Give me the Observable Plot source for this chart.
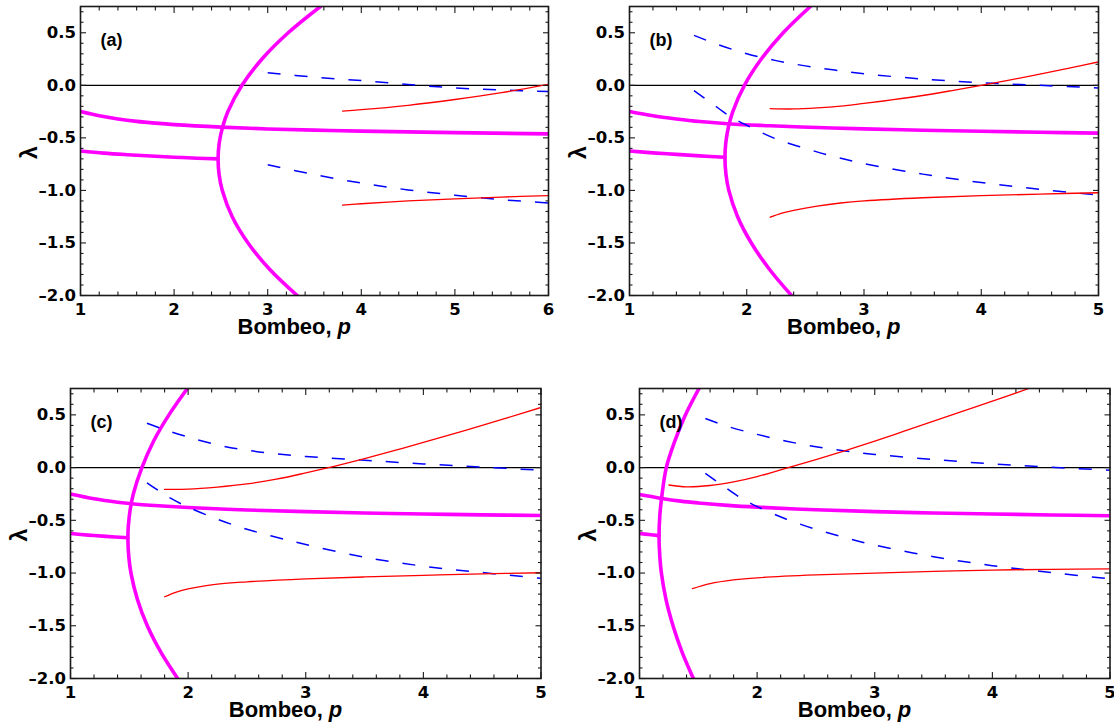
<!DOCTYPE html>
<html>
<head>
<meta charset="utf-8">
<script src="https://cdn.jsdelivr.net/npm/d3@7"></script>
<script src="https://cdn.jsdelivr.net/npm/@observablehq/plot@0.6"></script>
<style>
  html, body { margin: 0; padding: 0; background: #fff; overflow: hidden; }
  #fig { position: relative; width: 1114px; height: 727px; }
  #fig svg { position: absolute; }
</style>
</head>
<body>
<div id="fig"></div>
<script>
// Eigenvalue branches λ(p) versus pump strength p, four parameter sets (a)–(d).
// Each series is a list of [p, λ] pairs.

// ---- (a) ----
const a_arc = [[3.563, 0.75], [3.219, 0.5], [2.939, 0.25], [2.725, 0], [2.575, -0.25], [2.517, -0.4], [2.482, -0.55], [2.47, -0.7], [2.481, -0.85], [2.515, -1.0], [2.621, -1.25], [2.79, -1.5], [3.02, -1.75], [3.315, -2.0]];
const a_upper = [[1, -0.25], [1.2, -0.29], [1.4, -0.32], [1.6, -0.343], [1.8, -0.36], [2, -0.374], [2.5, -0.398], [3, -0.415], [3.5, -0.426], [4, -0.436], [5, -0.45], [6, -0.462]];
const a_lower = [[1, -0.625], [1.25, -0.645], [1.5, -0.66], [1.75, -0.673], [2, -0.684], [2.25, -0.694], [2.47, -0.7]];
const a_blueHi = [[3.0, 0.12], [3.5, 0.078], [4.0, 0.045], [4.5, 0.008], [5.0, -0.025], [5.5, -0.045], [6.0, -0.06]];
const a_blueLo = [[3.0, -0.755], [3.5, -0.85], [4.0, -0.93], [4.5, -0.995], [5.0, -1.045], [5.5, -1.088], [6.0, -1.12]];
const a_redHi = [[3.8, -0.245], [4.0, -0.232], [4.5, -0.19], [5.0, -0.135], [5.5, -0.07], [6.0, 0.01]];
const a_redLo = [[3.8, -1.14], [4.0, -1.127], [4.5, -1.1], [5.0, -1.08], [5.5, -1.063], [6.0, -1.05]];

// ---- (b) ----
const b_arc = [[2.543, 0.75], [2.311, 0.5], [2.124, 0.25], [1.98, 0], [1.881, -0.25], [1.843, -0.4], [1.821, -0.55], [1.814, -0.687], [1.823, -0.85], [1.847, -1.0], [1.922, -1.25], [2.039, -1.5], [2.193, -1.75], [2.382, -2.0]];
const b_upper = [[1, -0.25], [1.2, -0.29], [1.4, -0.32], [1.6, -0.345], [1.86, -0.368], [2.2, -0.385], [2.6, -0.402], [3, -0.414], [3.5, -0.427], [4, -0.437], [4.5, -0.447], [5, -0.455]];
const b_lower = [[1, -0.625], [1.2, -0.643], [1.4, -0.657], [1.6, -0.671], [1.814, -0.685]];
const b_blueHi = [[1.55, 0.475], [1.75, 0.39], [2.0, 0.3], [2.25, 0.235], [2.5, 0.185], [2.75, 0.145], [3.0, 0.11], [3.5, 0.06], [4.0, 0.025], [4.5, 0.0], [5.0, -0.025]];
const b_blueLo = [[1.55, -0.05], [1.7, -0.17], [1.85, -0.29], [2.0, -0.38], [2.25, -0.51], [2.5, -0.6], [2.75, -0.68], [3.0, -0.745], [3.5, -0.845], [4.0, -0.925], [4.5, -0.99], [5.0, -1.045]];
const b_redHi = [[2.2, -0.222], [2.4, -0.225], [2.6, -0.215], [2.8, -0.198], [3.0, -0.172], [3.25, -0.137], [3.5, -0.097], [3.75, -0.05], [4.0, 0.0], [4.25, 0.052], [4.5, 0.106], [4.75, 0.163], [5.0, 0.223]];
const b_redLo = [[2.2, -1.255], [2.3, -1.215], [2.4, -1.19], [2.6, -1.15], [2.8, -1.12], [3.0, -1.1], [3.5, -1.07], [4.0, -1.05], [4.5, -1.035], [5.0, -1.022]];

// ---- (c) ----
const c_arc = [[1.994, 0.75], [1.837, 0.5], [1.706, 0.25], [1.607, 0], [1.534, -0.25], [1.507, -0.4], [1.492, -0.55], [1.488, -0.67], [1.496, -0.85], [1.514, -1.0], [1.569, -1.25], [1.653, -1.5], [1.768, -1.75], [1.911, -2.0]];
const c_upper = [[1, -0.25], [1.2, -0.295], [1.4, -0.328], [1.52, -0.343], [1.75, -0.362], [2, -0.378], [2.5, -0.402], [3, -0.418], [3.5, -0.43], [4, -0.44], [4.5, -0.448], [5, -0.455]];
const c_lower = [[1, -0.625], [1.15, -0.64], [1.3, -0.652], [1.488, -0.665]];
const c_blueHi = [[1.65, 0.42], [1.8, 0.36], [2.0, 0.29], [2.25, 0.215], [2.5, 0.165], [2.75, 0.13], [3.0, 0.105], [3.5, 0.07], [4.0, 0.035], [4.5, 0.005], [5.0, -0.025]];
const c_blueLo = [[1.65, -0.145], [1.75, -0.22], [1.85, -0.29], [2.0, -0.375], [2.25, -0.49], [2.5, -0.585], [2.75, -0.66], [3.0, -0.73], [3.5, -0.85], [4.0, -0.935], [4.5, -0.995], [5.0, -1.05]];
const c_redHi = [[1.8, -0.207], [2.0, -0.205], [2.25, -0.185], [2.5, -0.155], [2.75, -0.11], [3.0, -0.05], [3.25, 0.015], [3.5, 0.085], [3.75, 0.16], [4.0, 0.24], [4.5, 0.4], [5.0, 0.57]];
const c_redLo = [[1.8, -1.225], [1.9, -1.18], [2.0, -1.15], [2.25, -1.105], [2.5, -1.083], [3.0, -1.055], [3.5, -1.037], [4.0, -1.022], [4.5, -1.008], [5.0, -0.997]];

// ---- (d) ----
const d_arc = [[1.506, 0.75], [1.391, 0.5], [1.30, 0.25], [1.228, 0], [1.192, -0.25], [1.173, -0.45], [1.166, -0.65], [1.173, -0.85], [1.186, -1.0], [1.225, -1.25], [1.285, -1.5], [1.362, -1.75], [1.458, -2.0]];
const d_upper = [[1, -0.255], [1.1, -0.275], [1.19, -0.293], [1.35, -0.318], [1.5, -0.335], [1.75, -0.358], [2, -0.375], [2.5, -0.4], [3, -0.418], [3.5, -0.43], [4, -0.44], [4.5, -0.449], [5, -0.456]];
const d_lower = [[1, -0.625], [1.08, -0.635], [1.166, -0.645]];
const d_blueHi = [[1.56, 0.465], [1.75, 0.39], [2.0, 0.315], [2.25, 0.25], [2.5, 0.198], [2.75, 0.157], [3.0, 0.125], [3.5, 0.077], [4.0, 0.035], [4.5, 0.003], [5.0, -0.025]];
const d_blueLo = [[1.56, -0.055], [1.7, -0.165], [1.85, -0.28], [2.0, -0.37], [2.25, -0.49], [2.5, -0.585], [2.75, -0.665], [3.0, -0.735], [3.5, -0.845], [4.0, -0.93], [4.5, -0.995], [5.0, -1.055]];
const d_redHi = [[1.25, -0.165], [1.4, -0.183], [1.6, -0.17], [1.8, -0.135], [2.0, -0.085], [2.25, -0.005], [2.5, 0.075], [2.75, 0.16], [3.0, 0.25], [3.25, 0.345], [3.5, 0.44], [3.75, 0.535], [4.0, 0.63], [4.31, 0.75]];
const d_redLo = [[1.45, -1.148], [1.6, -1.1], [1.8, -1.065], [2.0, -1.045], [2.5, -1.018], [3.0, -1.0], [3.5, -0.985], [4.0, -0.972], [4.5, -0.965], [5.0, -0.96]];

// Axis ticks and texts
const xTicksWide = [1, 2, 3, 4, 5, 6];
const xTicksNarrow = [1, 2, 3, 4, 5];
const yTicks = [-2, -1.5, -1, -0.5, 0, 0.5];
const panelTags = ["(a)", "(b)", "(c)", "(d)"];
const xLabelText = "Bombeo,";
const xLabelVar = "p";
const yLabelText = "λ";

// Panel layout (page pixel positions of each plot frame)
const panels = [
  {tag: panelTags[0], xTicks: xTicksWide, arc: a_arc, upper: a_upper, lower: a_lower, blueHi: a_blueHi, blueLo: a_blueLo, redHi: a_redHi, redLo: a_redLo,
   frame: {left: 79.5, right: 547.5, top: 5.5, bottom: 294.5}},
  {tag: panelTags[1], xTicks: xTicksNarrow, arc: b_arc, upper: b_upper, lower: b_lower, blueHi: b_blueHi, blueLo: b_blueLo, redHi: b_redHi, redLo: b_redLo,
   frame: {left: 629, right: 1098, top: 5.5, bottom: 294.5}},
  {tag: panelTags[2], xTicks: xTicksNarrow, arc: c_arc, upper: c_upper, lower: c_lower, blueHi: c_blueHi, blueLo: c_blueLo, redHi: c_redHi, redLo: c_redLo,
   frame: {left: 70, right: 540.5, top: 387.5, bottom: 677.5}},
  {tag: panelTags[3], xTicks: xTicksNarrow, arc: d_arc, upper: d_upper, lower: d_lower, blueHi: d_blueHi, blueLo: d_blueLo, redHi: d_redHi, redLo: d_redLo,
   frame: {left: 638.5, right: 1109, top: 387.5, bottom: 677.5}}
];

const ML = 80, MR = 24, MT = 6, MB = 52;
const FONT = "'Liberation Sans', Arial, Helvetica, sans-serif";
const TICKFONT = "'DejaVu Sans', 'Liberation Sans', sans-serif";
const INK = "#1a1a1a";

const magenta = {stroke: "#ff00ff", strokeWidth: 3.6, curve: "catmull-rom", clip: true};
const blue = {stroke: "#0000ff", strokeWidth: 1.5, strokeDasharray: "13,14", strokeLinecap: "butt", curve: "catmull-rom", clip: true};
const red = {stroke: "#ff0000", strokeWidth: 1.3, curve: "catmull-rom", clip: true};
const xy = {x: d => d[0], y: d => d[1]};
const yFormat = d => d3.format(".1f")(d).replace("\u2212", "\u2013");

const fig = document.getElementById("fig");

for (const P of panels) {
  const fw = P.frame.right - P.frame.left;
  const fh = P.frame.bottom - P.frame.top;
  const pMax = P.xTicks[P.xTicks.length - 1];
  const xMinor = d3.range(1, pMax + 1e-9, 0.2).map(v => +v.toFixed(2)).filter(v => !P.xTicks.includes(v));
  const yMinor = d3.range(-2, 0.75 + 1e-9, 0.1).map(v => +v.toFixed(2)).filter(v => !yTicks.includes(v));

  const tickAxis = (axis, ticks, anchor, size) =>
    axis(ticks, {anchor, tickSize: -size, fill: "none", label: null, stroke: INK, strokeWidth: 1.1});

  const chart = Plot.plot({
    width: fw + ML + MR,
    height: fh + MT + MB,
    marginLeft: ML, marginRight: MR, marginTop: MT, marginBottom: MB,
    x: {domain: [1, pMax]},
    y: {domain: [-2, 0.75]},
    style: {fontFamily: FONT, fontSize: "17px", fontWeight: "bold", color: "#000", background: "transparent", overflow: "visible"},
    marks: [
      Plot.ruleY([0], {stroke: "#000", strokeWidth: 1.2}),
      Plot.line(P.arc, {...xy, ...magenta}),
      Plot.line(P.upper, {...xy, ...magenta}),
      Plot.line(P.lower, {...xy, ...magenta}),
      Plot.line(P.blueHi, {...xy, ...blue}),
      Plot.line(P.blueLo, {...xy, ...blue}),
      Plot.line(P.redHi, {...xy, ...red}),
      Plot.line(P.redLo, {...xy, ...red}),
      Plot.frame({stroke: INK, strokeWidth: 1.6}),
      // inward ticks on all four sides
      tickAxis(Plot.axisX, P.xTicks, "bottom", 6),
      tickAxis(Plot.axisX, P.xTicks, "top", 6),
      tickAxis(Plot.axisX, xMinor, "bottom", 3.5),
      tickAxis(Plot.axisX, xMinor, "top", 3.5),
      tickAxis(Plot.axisY, yTicks, "left", 6),
      tickAxis(Plot.axisY, yTicks, "right", 6),
      tickAxis(Plot.axisY, yMinor, "left", 3.5),
      tickAxis(Plot.axisY, yMinor, "right", 3.5),
      // tick labels
      Plot.axisX(P.xTicks, {anchor: "bottom", tickSize: 0, tickPadding: 7.5, tickFormat: d => String(d), label: null, fontFamily: TICKFONT, fontSize: 16.5, fontWeight: "bold"}),
      Plot.axisY(yTicks, {anchor: "left", tickSize: 0, tickPadding: 4.5, tickFormat: yFormat, label: null, fontFamily: TICKFONT, fontSize: 16.5, fontWeight: "bold"}),
      // panel tag
      Plot.text([P.tag], {text: d => d, frameAnchor: "top-left", dx: 20, dy: 27, textAnchor: "start", fontSize: 18, fontWeight: "bold"}),
      // axis titles
      Plot.text([xLabelText], {text: d => d, frameAnchor: "bottom", dx: -77, dy: 38, textAnchor: "start", lineAnchor: "bottom", fontSize: 22, fontWeight: "bold"}),
      Plot.text([xLabelVar], {text: d => d, frameAnchor: "bottom", dx: 23, dy: 38, textAnchor: "start", lineAnchor: "bottom", fontSize: 22, fontWeight: "bold", fontStyle: "italic"}),
      Plot.text([yLabelText], {text: d => d, frameAnchor: "left", dx: -51, dy: 8, rotate: -90, fontSize: 23, fontWeight: "bold"})
    ]
  });
  chart.style.left = (P.frame.left - ML) + "px";
  chart.style.top = (P.frame.top - MT) + "px";
  fig.appendChild(chart);
}
</script>
</body>
</html>
